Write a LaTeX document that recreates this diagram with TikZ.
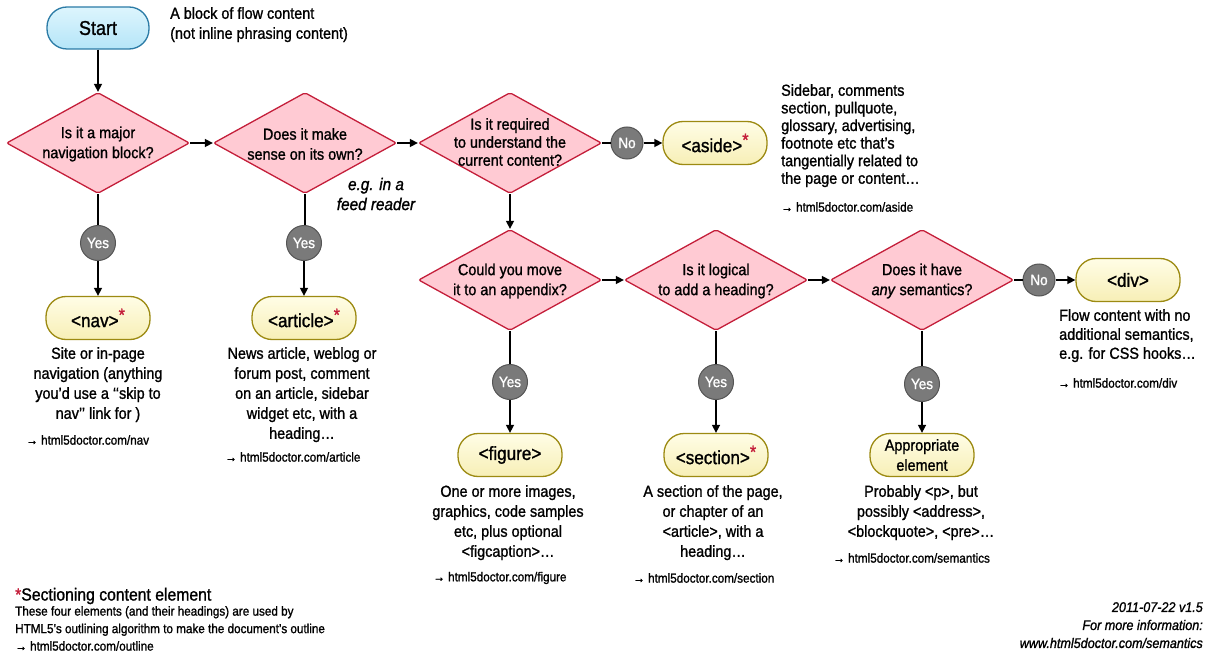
\documentclass[tikz,border=0pt]{standalone}
\usepackage{fontspec}
\setmainfont{Liberation Sans}[FakeStretch=0.9,FakeBold=1.2]
\usetikzlibrary{shapes.geometric,arrows.meta,calc}
\definecolor{diafill}{HTML}{FFCAD3}
\definecolor{diadraw}{HTML}{C41E3A}
\definecolor{boxtop}{HTML}{FFFDE6}
\definecolor{boxbot}{HTML}{F7EFB6}
\definecolor{boxdraw}{HTML}{9C8A12}
\definecolor{starttop}{HTML}{DDF5FD}
\definecolor{startbot}{HTML}{B5E5F8}
\definecolor{startdraw}{HTML}{2B7BA6}
\definecolor{circfill}{HTML}{7A7A7A}
\definecolor{circdraw}{HTML}{555555}
\definecolor{astred}{HTML}{C41E3A}
\newcommand{\secast}{\raisebox{6pt}{\textcolor{astred}{\fontsize{18}{18}\selectfont *}}}
\tikzset{
  dia/.style={diamond, draw=diadraw, fill=diafill, line width=1.3pt, minimum width=183pt, minimum height=101pt, inner sep=0pt, rounded corners=2pt},
  dtext/.style={align=center, font=\fontsize{16}{20}\selectfont, inner sep=0pt},
  elem/.style={rectangle, rounded corners=20pt, draw=boxdraw, top color=boxtop, bottom color=boxbot, line width=1.3pt, minimum width=104pt, minimum height=43pt, font=\fontsize{19}{20}\selectfont, align=center, inner sep=0pt},
  startbox/.style={rectangle, rounded corners=20pt, draw=startdraw, top color=starttop, bottom color=startbot, line width=1.3pt, minimum width=102pt, minimum height=42pt, font=\fontsize{20}{22}\selectfont},
  yesc/.style={circle, fill=circfill, draw=circdraw, line width=1pt, minimum size=35pt, inner sep=0pt, text=white, font=\fontsize{15}{15}\selectfont},
  noc/.style={circle, fill=circfill, draw=circdraw, line width=1pt, minimum size=32pt, inner sep=0pt, text=white, font=\fontsize{15}{15}\selectfont},
  desc/.style={align=center, font=\fontsize{16}{20}\selectfont, inner sep=0pt, anchor=north},
  ldesc/.style={align=left, font=\fontsize{16}{17.6}\selectfont, inner sep=0pt, anchor=north west},
  lk/.style={inner sep=0pt, anchor=west, font=\fontsize{13}{14}\selectfont},
  arr/.style={line width=1.5pt, -{Triangle[length=8pt,width=8pt]}},
  ln/.style={line width=1.5pt},
}
\begin{document}
\begin{tikzpicture}[x=1pt,y=-1pt]
\useasboundingbox (0,0) rectangle (1209,655);

% Start
\node[startbox] (start) at (98,28) {Start};
\node[inner sep=0pt, anchor=north west, align=left, font=\fontsize{16}{20}\selectfont] (startnote) at (170,7) {A block of flow content\\(not inline phrasing content)};

% Row 1 diamonds
\node[dia] (d1) at (98,143) {};
\node[dtext] (d1t) at (98,144) {Is it a major\\navigation block?};
\node[dia] (d2) at (305,143) {};
\node[dtext] (d2t) at (305,144) {Does it make\\sense on its own?};
\node[dia] (d3) at (510,143) {};
\node[dtext, font=\fontsize{16}{18}\selectfont] (d3t) at (510,142) {Is it required\\to understand the\\current content?};

\node[align=center, inner sep=0pt, font=\itshape\fontsize{17}{20}\selectfont] (feed) at (376,194) {e.g. in a\\feed reader};

% aside
\node[noc] (no1) at (627,143) {No};
\node[elem] (aside) at (715,143) {<aside>\secast};
\node[ldesc] (asidet) at (781,84) {Sidebar, comments\\section, pullquote,\\glossary, advertising,\\footnote etc that’s\\tangentially related to\\the page or content…};
\node[lk] (asidel) at (781,207) {→ html5doctor.com/aside};

% Row 1 yes
\node[yesc] (y1) at (98,243) {Yes};
\node[elem] (nav) at (98,318) {<nav>\secast};
\node[desc] (navt) at (98,347) {Site or in-page\\navigation (anything\\you’d use a ‘‘skip to\\nav’’ link for )};
\node[lk] (navl) at (26,440) {→ html5doctor.com/nav};

\node[yesc] (y2) at (304,243) {Yes};
\node[elem] (article) at (304,318) {<article>\secast};
\node[desc] (articlet) at (302,347) {News article, weblog or\\forum post, comment\\on an article, sidebar\\widget etc, with a\\heading…};
\node[lk] (articlel) at (225,457) {→ html5doctor.com/article};

% Row 2 diamonds
\node[dia] (d4) at (510,280) {};
\node[dtext] (d4t) at (510,281) {Could you move\\it to an appendix?};
\node[dia] (d5) at (716,280) {};
\node[dtext] (d5t) at (716,281) {Is it logical\\to add a heading?};
\node[dia] (d6) at (922,280) {};
\node[dtext] (d6t) at (922,281) {Does it have\\\textit{any} semantics?};

% div
\node[noc] (no2) at (1039,280) {No};
\node[elem] (div) at (1128,280) {<div>};
\node[ldesc, font=\fontsize{16}{19}\selectfont] (divt) at (1059,309) {Flow content with no\\additional semantics,\\e.g. for CSS hooks…};
\node[lk] (divl) at (1058,383) {→ html5doctor.com/div};

% Row 2 yes
\node[yesc] (y4) at (510,382) {Yes};
\node[elem] (figure) at (510,455) {<figure>};
\node[desc] (figuret) at (508,485) {One or more images,\\graphics, code samples\\etc, plus optional\\<figcaption>…};
\node[lk] (figurel) at (433,578) {→ html5doctor.com/figure};

\node[yesc] (y5) at (716,382) {Yes};
\node[elem] (section) at (716,455) {<section>\secast};
\node[desc] (sectiont) at (713,485) {A section of the page,\\or chapter of an\\<article>, with a\\heading…};
\node[lk] (sectionl) at (633,578) {→ html5doctor.com/section};

\node[yesc] (y6) at (922,384) {Yes};
\node[elem, font=\fontsize{16}{20}\selectfont] (approp) at (922,455) {Appropriate\\element};
\node[desc] (appropt) at (921,485) {Probably <p>, but\\possibly <address>,\\<blockquote>, <pre>…};
\node[lk] (appropl) at (833,558) {→ html5doctor.com/semantics};

% Footnote
\node[inner sep=0pt, anchor=west, font=\fontsize{17.5}{18}\selectfont] (foot) at (15,596) {\textcolor{astred}{*}Sectioning content element};
\node[inner sep=0pt, anchor=north west, align=left, font=\fontsize{13}{17.5}\selectfont] (foott) at (15,606) {These four elements (and their headings) are used by\\HTML5’s outlining algorithm to make the document’s outline\\→ html5doctor.com/outline};

\node[inner sep=0pt, anchor=north east, align=right, font=\itshape\fontsize{14}{18}\selectfont] (ver) at (1203,602) {2011-07-22 v1.5\\For more information:\\www.html5doctor.com/semantics};

% Connectors
\draw[arr] (start) -- (d1);
\draw[arr] (d1) -- (d2);
\draw[arr] (d2) -- (d3);
\draw[ln] (d3) -- (no1);
\draw[arr] (no1) -- (aside);
\draw[ln] (d1) -- (y1);
\draw[arr] (y1) -- (nav);
\draw[ln] (d2.south) -- (d2.south |- y2.north);
\draw[arr] (y2) -- (article);
\draw[arr] (d3) -- (d4);
\draw[arr] (d4) -- (d5);
\draw[arr] (d5) -- (d6);
\draw[ln] (d6) -- (no2);
\draw[arr] (no2) -- (div);
\draw[ln] (d4) -- (y4);
\draw[arr] (y4) -- (figure);
\draw[ln] (d5) -- (y5);
\draw[arr] (y5) -- (section);
\draw[ln] (d6) -- (y6);
\draw[arr] (y6) -- (approp);
\end{tikzpicture}
\end{document}
